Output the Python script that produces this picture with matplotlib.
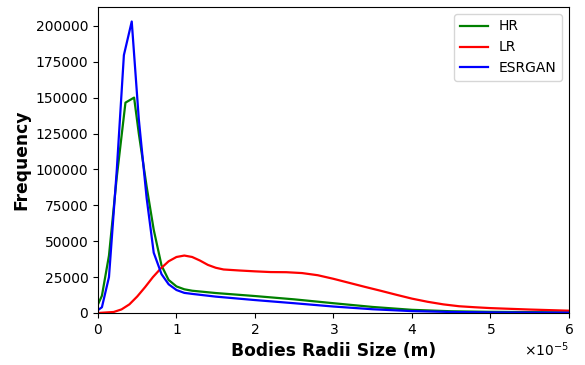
import numpy as np
import matplotlib.pyplot as plt

# radius grid (x 1e-5 m) and counts for each dataset
hr_r = [0.0, 0.05, 0.14, 0.24, 0.35, 0.46, 0.52, 0.62, 0.71, 0.81, 0.9, 1.0, 1.1,
        1.2, 1.5, 2.0, 2.5, 3.0, 3.5, 4.0, 4.5, 5.0, 5.5, 6.0]
hr_freq = [6000, 12000, 40000, 95000, 146500, 150000, 125000, 88000, 58000, 33000, 23000, 18500, 16500,
           15500, 13900, 11800, 9500, 6800, 4200, 2200, 1200, 800, 600, 400]

esrgan_r = [0.0, 0.05, 0.14, 0.24, 0.33, 0.43, 0.52, 0.62, 0.71, 0.81, 0.9, 1.0, 1.1,
            1.2, 1.5, 2.0, 2.5, 3.0, 3.5, 4.0, 4.5, 5.0, 5.5, 6.0]
esrgan_freq = [2000, 4000, 25000, 100000, 179600, 203000, 135000, 80000, 42000, 27000, 20000, 16000, 14000,
               13300, 11400, 9000, 6800, 4500, 2600, 1300, 700, 400, 300, 200]

lr_r = [0.0, 0.2, 0.3, 0.4, 0.5, 0.6, 0.7, 0.8, 0.9, 1.0, 1.1, 1.2, 1.3, 1.4, 1.5, 1.6, 1.8,
        2.0, 2.2, 2.4, 2.6, 2.8, 3.0, 3.2, 3.4, 3.6, 3.8, 4.0, 4.2, 4.4, 4.6, 4.8, 5.0, 5.5, 6.0]
lr_freq = [0, 700, 2500, 6000, 11500, 18000, 25000, 31000, 36000, 39000, 40000, 39000, 36500, 33500,
           31500, 30300, 29600, 29000, 28500, 28400, 27800, 26300, 23800, 21000, 18200, 15500, 12700,
           10000, 7800, 6000, 4700, 4000, 3400, 2400, 1600]

fig = plt.figure(figsize=(5.85, 3.65), dpi=100)
ax = fig.add_axes([0.1675, 0.1425, 0.805, 0.8385])

ax.plot(np.array(hr_r) * 1e-5, hr_freq, color='green', lw=1.6, label='HR')
ax.plot(np.array(lr_r) * 1e-5, lr_freq, color='red', lw=1.6, label='LR')
ax.plot(np.array(esrgan_r) * 1e-5, esrgan_freq, color='blue', lw=1.6, label='ESRGAN')

ax.set_xlim(0, 6e-5)
ax.set_ylim(bottom=0)
ax.ticklabel_format(axis='x', style='sci', scilimits=(0, 0), useMathText=True)
ax.set_xlabel('Bodies Radii Size (m)', fontsize=12.3, fontweight='bold')
ax.set_ylabel('Frequency', fontsize=12.3, fontweight='bold')
ax.legend(loc='upper right', fontsize=10)

fig.savefig('out.png', dpi=100)
